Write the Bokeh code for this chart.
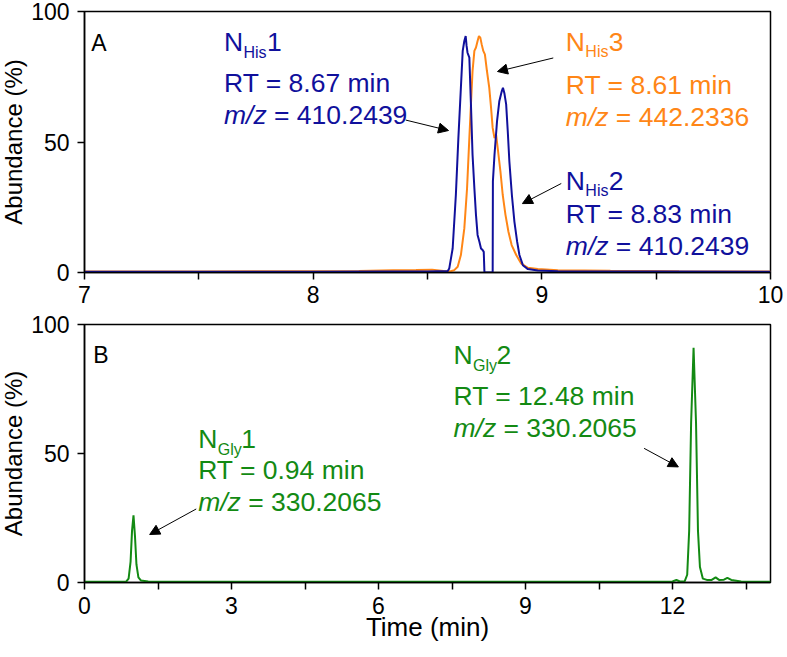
from bokeh.plotting import figure
from bokeh.layouts import column
from bokeh.models import Range1d, FixedTicker, Label, Arrow, NormalHead
from bokeh.embed import file_html
from bokeh.resources import INLINE

FONT = "Liberation Sans"
BLUE = "#10109c"
ORANGE = "#ff8616"
GREEN = "#138a13"

# ---------------- Panel A data (time in min, abundance in %) ----------------
his12_time = [7.00, 7.50, 8.00, 8.30, 8.50, 8.544, 8.588, 8.595, 8.610, 8.624, 8.635,
              8.646, 8.654, 8.661, 8.667, 8.671, 8.675, 8.683, 8.690, 8.697, 8.705,
              8.712, 8.719, 8.727, 8.734, 8.741, 8.746, 8.749, 8.785, 8.786, 8.793,
              8.804, 8.814, 8.825, 8.830, 8.836, 8.844, 8.851, 8.858, 8.869, 8.880,
              8.892, 8.902, 8.917, 8.939, 8.982, 9.070, 9.50, 10.00]
his12_abund = [0.3, 0.3, 0.3, 0.4, 0.4, 0.5, 0.5, 1.5, 9.2, 29.7, 51.5,
               70.8, 84.9, 88.7, 90.6, 86.8, 84.2, 82.3, 64.4, 45.1, 32.3,
               22.1, 14.4, 11.8, 9.2, 8.6, 7.9, 0.0, 0.0, 34.9, 45.1,
               57.9, 65.6, 69.5, 70.8, 68.8, 64.4, 54.1, 42.6, 29.7, 19.5,
               11.8, 6.7, 2.8, 1.3, 0.8, 0.5, 0.4, 0.3]

his3_time = [7.00, 7.50, 8.00, 8.20, 8.35, 8.45, 8.52, 8.57, 8.602, 8.617, 8.632,
             8.646, 8.661, 8.673, 8.683, 8.690, 8.697, 8.705, 8.712, 8.719, 8.725,
             8.731, 8.737, 8.744, 8.751, 8.760, 8.770, 8.778, 8.785, 8.793, 8.800,
             8.807, 8.819, 8.829, 8.841, 8.854, 8.868, 8.888, 8.909, 8.939, 8.982,
             9.070, 9.30, 9.60, 10.00]
his3_abund = [0.4, 0.4, 0.5, 0.6, 0.9, 1.0, 1.1, 0.6, 0.5, 0.9, 2.2,
              6.7, 16.9, 32.3, 51.5, 64.4, 77.2, 84.9, 86.2, 88.7, 90.6,
              90.0, 87.4, 84.9, 83.6, 77.2, 70.8, 63.1, 55.4, 51.5, 52.8,
              47.7, 38.7, 29.7, 22.1, 15.6, 10.5, 6.7, 3.5, 1.8, 1.3,
              0.9, 0.7, 0.5, 0.4]

# ---------------- Panel B data ----------------
gly_time = [0.00, 0.50, 0.85, 0.90, 0.94, 0.97, 1.00, 1.03, 1.06, 1.10, 1.15, 1.30,
            3.00, 6.00, 9.00, 11.50, 12.00, 12.08, 12.15, 12.25, 12.30, 12.34,
            12.38, 12.43, 12.48, 12.52, 12.56, 12.62, 12.70, 12.80, 12.88, 12.95,
            13.05, 13.12, 13.20, 13.40, 14.00]
gly_abund = [0.3, 0.3, 0.3, 1.5, 8.0, 20.0, 26.0, 18.0, 7.0, 2.0, 0.8, 0.4,
             0.3, 0.3, 0.3, 0.3, 0.4, 1.0, 0.4, 0.5, 3.0, 20.0,
             62.0, 91.0, 62.0, 20.0, 6.0, 1.5, 1.0, 1.0, 2.0, 1.0,
             1.1, 1.8, 1.0, 0.4, 0.3]

# ---------------- Tick values ----------------
a_ticks = [7, 8, 9, 10]
a_minor = [7.5, 8.5, 9.5]
b_ticks = [0, 3, 6, 9, 12]
b_minor = [1.5, 4.5, 7.5, 10.5, 13.5]
y_ticks = [0, 50, 100]

# ---------------- Annotation text ----------------
a_names = ["1", "3", "2"]
a_rts = ["RT = 8.67 min", "RT = 8.61 min", "RT = 8.83 min"]
a_mzs = ["= 410.2439", "= 442.2336", "= 410.2439"]
b_names = ["1", "2"]
b_rts = ["RT = 0.94 min", "RT = 12.48 min"]
b_mzs = ["= 330.2065", "= 330.2065"]

# label anchors (data units), line offsets (px) and arrows (tail -> tip)
a_pos = [(7.61, 88.2), (9.105, 88.4), (9.105, 35.1)]
a_gaps = [(-41, -73), (-43, -75), (-33, -65)]
a_colors = [BLUE, ORANGE, BLUE]
a_arrows = [((8.405, 58.4), (8.592, 54.4)),
            ((9.050, 82.2), (8.806, 77.0)),
            ((9.085, 34.1), (8.915, 26.4))]
b_pos = [(2.32, 55.6), (7.53, 88.1)]
b_gaps = [(-31, -63), (-41, -73)]
b_arrows = [((2.28, 28.5), (1.33, 18.6)),
            ((11.42, 52.0), (12.12, 44.8))]

W = 787
FRAME_W = 686


def make_fig(xr, height, top_border, bottom_border, xlabel):
    p = figure(width=W, height=height, x_range=Range1d(*xr), y_range=Range1d(0, 100),
               output_backend="svg", toolbar_location=None,
               min_border_left=88, min_border_right=W - 88 - FRAME_W,
               min_border_top=top_border, min_border_bottom=bottom_border,
               x_axis_label=xlabel, y_axis_label="Abundance (%)")
    p.grid.visible = False
    p.outline_line_color = "black"
    p.outline_line_width = 1.5
    p.outline_line_alpha = 1.0
    p.background_fill_color = "white"
    p.border_fill_color = "white"
    for ax in (p.xaxis[0], p.yaxis[0]):
        ax.axis_line_width = 1.5
        ax.axis_line_color = "black"
        ax.major_tick_line_width = 1.5
        ax.minor_tick_line_width = 1.5
        ax.major_tick_line_color = "black"
        ax.minor_tick_line_color = "black"
        ax.major_tick_out = 7
        ax.major_tick_in = 0
        ax.minor_tick_out = 7
        ax.minor_tick_in = 0
        ax.major_label_text_font = FONT
        ax.major_label_text_font_size = "23px"
        ax.major_label_text_color = "black"
        ax.axis_label_text_font = FONT
        ax.axis_label_text_font_style = "normal"
        ax.axis_label_text_color = "black"
    p.yaxis.axis_label_text_font_size = "24px"
    p.xaxis.axis_label_text_font_size = "26px"
    p.yaxis.ticker = FixedTicker(ticks=y_ticks)
    p.yaxis.major_label_standoff = 8
    p.yaxis.axis_label_standoff = 1
    p.xaxis.axis_label_standoff = -5
    return p


def name_block(p, x, y, gaps, sub, num, rt, mz, color):
    common = dict(text_font=FONT, text_color=color, text_baseline="alphabetic")
    big = "26.5px"
    p.add_layout(Label(x=x, y=y, text="N", text_font_size=big, **common))
    p.add_layout(Label(x=x, y=y, text=sub, x_offset=19.5, y_offset=-10,
                       text_font_size="16px", **common))
    p.add_layout(Label(x=x, y=y, text=num, x_offset=43, text_font_size=big, **common))
    p.add_layout(Label(x=x, y=y, text=rt, y_offset=gaps[0], text_font_size=big, **common))
    p.add_layout(Label(x=x, y=y, text="m/z", y_offset=gaps[1], text_font_size=big,
                       text_font_style="italic", **common))
    p.add_layout(Label(x=x, y=y, text=mz, x_offset=50, y_offset=gaps[1],
                       text_font_size=big, **common))


def arrow(p, tail, tip):
    p.add_layout(Arrow(end=NormalHead(size=10, fill_color="black", line_color="black",
                                      line_width=1),
                       x_start=tail[0], y_start=tail[1], x_end=tip[0], y_end=tip[1],
                       line_color="black", line_width=1))


# ---------------- Panel A ----------------
pa = make_fig((7, 10), 315, 15, 39, None)
pa.xaxis.ticker = FixedTicker(ticks=a_ticks, minor_ticks=a_minor)
pa.xaxis.major_label_standoff = 6
pa.line(his3_time, his3_abund, line_color=ORANGE, line_width=2)
pa.line(his12_time, his12_abund, line_color=BLUE, line_width=2)
for (x, y), g, num, rt, mz, c in zip(a_pos, a_gaps, a_names, a_rts, a_mzs, a_colors):
    name_block(pa, x, y, g, "His", num, rt, mz, c)
for tail, tip in a_arrows:
    arrow(pa, tail, tip)
pa.add_layout(Label(x=7.03, y=88.1, text="A", text_font=FONT, text_font_size="23px",
                    text_color="black", text_baseline="alphabetic"))

# ---------------- Panel B ----------------
pb = make_fig((0, 14), 337, 13, 66, "Time (min)")
pb.xaxis.ticker = FixedTicker(ticks=b_ticks, minor_ticks=b_minor)
pb.xaxis.major_label_standoff = 7
pb.line(gly_time, gly_abund, line_color=GREEN, line_width=2)
for (x, y), g, num, rt, mz in zip(b_pos, b_gaps, b_names, b_rts, b_mzs):
    name_block(pb, x, y, g, "Gly", num, rt, mz, GREEN)
for tail, tip in b_arrows:
    arrow(pb, tail, tip)
pb.add_layout(Label(x=0.18, y=88.1, text="B", text_font=FONT, text_font_size="23px",
                    text_color="black", text_baseline="alphabetic"))

layout = column(pa, pb, spacing=0,
                styles={"margin-top": "-4px", "margin-left": "-4px",
                        "margin-right": "-4px", "margin-bottom": "-4px"})
open("out.html", "w").write(file_html(layout, INLINE))
